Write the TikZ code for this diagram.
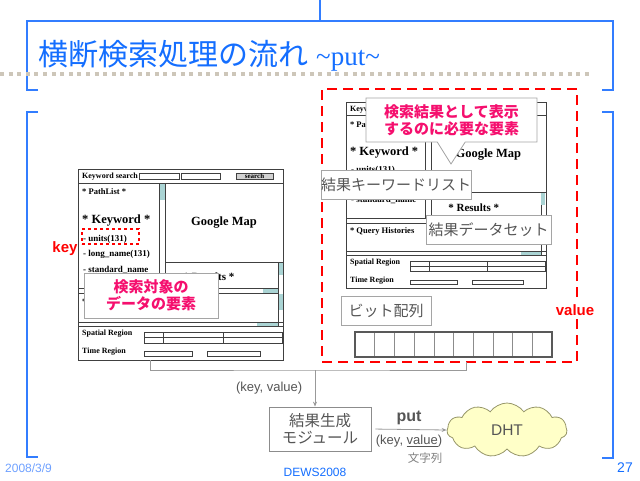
\documentclass[tikz,border=0pt]{standalone}
\usepackage{fontspec}
\setmainfont{Liberation Serif}
\setsansfont{Liberation Sans}
\newfontfamily\jp{Noto Sans CJK JP}
\usepackage{tikz}
\usetikzlibrary{arrows.meta, positioning, shapes.symbols, shapes.callouts}

\definecolor{titleblue}{RGB}{20,110,255}
\definecolor{frameblue}{RGB}{50,125,255}
\definecolor{dategray}{RGB}{110,160,255}
\definecolor{dotgray}{RGB}{205,198,185}
\definecolor{scrollblue}{RGB}{170,212,212}
\definecolor{boxgray}{RGB}{165,165,165}
\definecolor{textgray}{RGB}{85,85,85}
\definecolor{calloutpink}{RGB}{245,15,110}
\definecolor{cloudfill}{RGB}{255,255,200}
\definecolor{cloudline}{RGB}{150,150,105}

\newcommand\fsz[1]{\fontsize{#1}{#1}\selectfont}

\tikzset{
  mockline/.style={draw=black!75, line width=0.5pt},
  mocktext/.style={inner sep=0pt, anchor=west},
  callbox/.style={draw=boxgray, fill=white, line width=0.8pt, inner sep=0pt, align=center},
  pinktext/.style={text=calloutpink, font=\jp\bfseries\fsz{15}},
  graytext/.style={text=textgray, font=\jp\fsz{15}},
  flowline/.style={draw=black!40, line width=0.8pt},
  flowarrow/.style={flowline, -{Stealth[length=5pt,width=4pt]}},
  frameline/.style={draw=frameblue, line width=1.2pt},
  bitcell/.style={draw=black!45, line width=0.5pt, minimum width=19.7pt, minimum height=25pt, inner sep=0pt},
  pics/mockup/.style={code={
    \draw[mockline] (0,0) rectangle (205,191);
    % search bar
    \node[mocktext, font=\bfseries\fsz{8}] (-kwsearch) at (4,7.5) {Keyword search};
    \draw[mockline] (61,4) rectangle (101,10);
    \draw[mockline] (103,4) rectangle (142,10);
    \draw[mockline, fill=black!18] (158,4) rectangle (195,10);
    \node[mocktext, anchor=center, font=\bfseries\fsz{7}] (-search) at (176.5,7.3) {search};
    \draw[mockline] (0,14) -- (205,14);
    % left column
    \draw[mockline] (81,14) -- (81,119) (87,14) -- (87,119);
    \fill[scrollblue] (81.5,14.5) rectangle (86.5,31);
    \node[mocktext, font=\bfseries\fsz{8.5}] (-pathlist) at (4,23) {* PathList *};
    \node[mocktext, font=\bfseries\fsz{12.5}] (-keyword) at (4,52) {* Keyword *};
    \node[mocktext, font=\bfseries\fsz{9}] (-units) at (5,70) {- units(131)};
    \node[mocktext, font=\bfseries\fsz{9}] (-longname) at (5,85) {- long\_name(131)};
    \node[mocktext, font=\bfseries\fsz{9}] (-stdname) at (5,101) {- standard\_name};
    % map and results
    \node[mocktext, anchor=center, font=\bfseries\fsz{12.5}] (-gmap) at (146,54) {Google Map};
    \draw[mockline] (87,93) -- (205,93);
    \node[mocktext, anchor=center, font=\bfseries\fsz{11}] (-results) at (131,108) {* Results *};
    \draw[mockline] (200,93) -- (200,157);
    \fill[scrollblue] (200.5,93.5) rectangle (204.5,106);
    % query histories
    \draw[mockline] (0,119) -- (200,119) (0,124) -- (200,124);
    \fill[scrollblue] (185,119.5) rectangle (200,123.5);
    \fill[scrollblue] (200.5,124.5) rectangle (204.5,141);
    \node[mocktext, font=\bfseries\fsz{8.5}] (-query) at (4,133) {* Query Histories};
    \draw[mockline] (0,153) -- (205,153) (0,157) -- (205,157);
    \fill[scrollblue] (179,153.5) rectangle (200,156.5);
    % regions
    \node[mocktext, font=\bfseries\fsz{8}] (-spatial) at (4,165) {Spatial Region};
    \draw[mockline] (66,163) rectangle (204,174) (66,168.5) -- (204,168.5)
      (85,163) -- (85,174) (145,163) -- (145,174);
    \node[mocktext, font=\bfseries\fsz{8}] (-time) at (4,183) {Time Region};
    \draw[mockline] (66,182.5) rectangle (114,187) (129,182.5) rectangle (182,187);
    \coordinate (-foot) at (72,191);
  }}
}

\begin{document}
\begin{tikzpicture}[x=1pt, y=-1pt]
  \useasboundingbox (0,0) rectangle (640,480);
  % title frame
  \draw[frameline] (320,0) -- (320,21);
  \draw[frameline] (38,90) -- (27,90) -- (27,21) -- (613,21) -- (613,90) -- (602,90);
  \draw[dotgray, line width=4pt, dash pattern=on 4pt off 4.6pt] (0,74) -- (592,74);
  \node[anchor=west, inner sep=0pt, text=titleblue] (title) at (38,56)
    {{\jp\fsz{30}横断検索処理の流れ}\hspace{8pt}{\fsz{27}\textasciitilde put\textasciitilde}};
  % content frame
  \draw[frameline] (38,112) -- (27,112) -- (27,457) -- (38,457);
  \draw[frameline] (602,112) -- (613,112) -- (613,458) -- (602,458);

  % left screen: key
  \pic (lm) at (78,169) {mockup};
  \node[draw=red, dashed, line width=1.4pt, minimum width=57pt, minimum height=15pt, inner sep=0pt] (unitbox) at (110.5,236.5) {};
  \node[text=red, font=\sffamily\bfseries\fsz{15}, inner sep=0pt] (keylbl) at (65,249) {key};
  \node[callbox, pinktext, minimum width=134pt, minimum height=45pt] (target) at (151,295.5)
    {検索対象の\\[2pt]データの要素};

  % right screen: value
  \node[draw=red, line width=2.5pt, dash pattern=on 10pt off 6pt, minimum width=255pt, minimum height=273pt, inner sep=0pt] (valbox) at (449.5,225.5) {};
  \pic[scale=0.975] (rm) at (346,102) {mockup};
  \node[callbox, pinktext, rectangle callout, callout absolute pointer={(451,164)}, callout pointer width=28pt,
    minimum width=171pt, minimum height=44pt] (display) at (451.5,120)
    {検索結果として表示\\[2pt]するのに必要な要素};
  \node[callbox, graytext, minimum width=142pt, minimum height=29pt] (kwlist) at (396,184.5) {結果キーワードリスト};
  \node[callbox, graytext, minimum width=125pt, minimum height=29pt] (dataset) at (488.5,229.5) {結果データセット};
  \node[callbox, graytext, minimum width=90pt, minimum height=29pt] (bitlbl) at (386,310.5) {ビット配列};
  \foreach \i in {0,...,9}
    \node[bitcell] (bit\i) at (364.85+19.7*\i,344.5) {};
  \draw[black!65, line width=1.8pt] (bit0.north west) rectangle (bit9.south east);
  \node[text=red, fill=white, font=\sffamily\bfseries\fsz{15}, inner sep=1pt] (vallbl) at (575,310) {value};

  % result module and DHT
  \coordinate (join) at (315,370);
  \coordinate (valfoot) at (466,362);
  \node[draw=black!45, line width=0.8pt, minimum width=102pt, minimum height=44pt, align=center,
    text=textgray, font=\jp\fsz{15.5}] (module) at (320,429) {結果生成\\[1pt]モジュール};
  \node[cloud, cloud puffs=11, cloud puff arc=110, aspect=2.2, draw=cloudline, fill=cloudfill,
    line width=0.8pt, minimum width=120pt, minimum height=54pt, text=textgray,
    font=\sffamily\fsz{15.5}] (dht) at (507,430) {DHT};
  \draw[flowline] (lm-foot) |- (join) -| (valfoot);
  \draw[flowarrow] (join) -- node[left=9pt, text=textgray, font=\sffamily\fsz{13}] (kvtop) {(key, value)} (join |- module.north);
  \draw[flowarrow, shorten <=4pt] (module.east) -- (dht.west)
    node[midway, above=1pt, text=textgray, font=\sffamily\bfseries\fsz{16}] (putlbl) {put}
    node[midway, below=2pt, text=textgray, font=\sffamily\fsz{13}] (kvlbl) {(key, \underline{value})};
  \node[text=black!50, font=\jp\fsz{11.5}, inner sep=0pt] (strlbl) at (425,458) {文字列};

  % footer
  \node[anchor=west, inner sep=0pt, text=dategray, font=\sffamily\fsz{12}] (date) at (5,468) {2008/3/9};
  \node[inner sep=0pt, text=titleblue, font=\sffamily\fsz{12}] (conf) at (315,472) {DEWS2008};
  \node[anchor=east, inner sep=0pt, text=titleblue, font=\sffamily\fsz{14}] (page) at (633,468) {27};
\end{tikzpicture}
\end{document}
